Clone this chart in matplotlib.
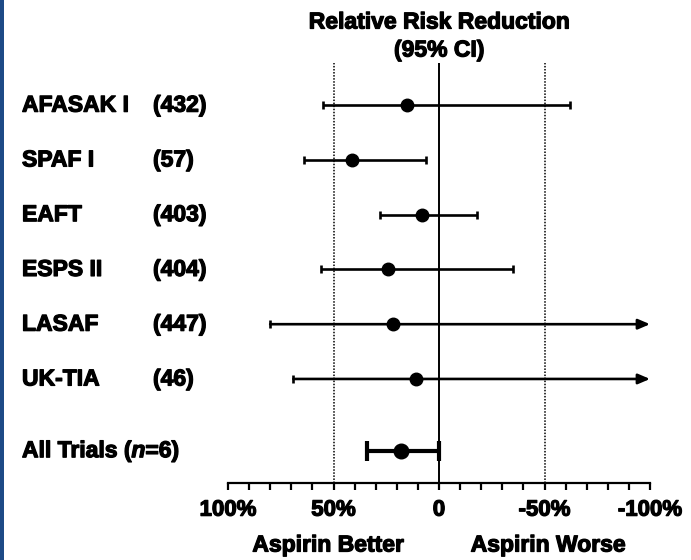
import matplotlib
matplotlib.use("Agg")
import matplotlib.pyplot as plt
import matplotlib.transforms as mtransforms
import matplotlib.patheffects as pe
from matplotlib.patches import Rectangle

plt.rcParams['font.family'] = ['Liberation Sans', 'DejaVu Sans']
plt.rcParams['font.weight'] = 'bold'

# relative risk reduction (%), point estimate and 95% CI ends
trials = ['AFASAK I', 'SPAF I', 'EAFT', 'ESPS II', 'LASAF', 'UK-TIA']
n_pts = ['(432)', '(57)', '(403)', '(404)', '(447)', '(46)']
rrr = [15, 41, 8, 24, 22, 11]
ci_better = [55, 64, 28, 56, 80, 69]
ci_worse = [-62, 6, -18, -35, -100, -100]
open_end = [False, False, False, False, True, True]

pooled_rrr = 18
pooled_ci = (34, 0)

tick_vals = [100, 50, 0, -50, -100]
tick_labels = ['100%', '50%', '0', '-50%', '-100%']

heavy = [pe.withStroke(linewidth=0.9, foreground='black')]

fig = plt.figure(figsize=(6.91, 5.60), dpi=100)
fig.patch.set_facecolor('white')
fig.patches.append(Rectangle((0, 0), 4 / 691, 1, transform=fig.transFigure,
                             facecolor='#1d4a86', edgecolor='none'))

ax = fig.add_axes([228 / 691, 77 / 560, 422 / 691, 420 / 560])
ax.set_xlim(100, -100)
ax.set_ylim(6.90, -0.77)

rows = list(range(len(trials)))
pooled_row = 6.31

# reference lines
ax.axvline(0, color='black', lw=1.4, zorder=1)
for v in (50, -50):
    ax.axvline(v, color='black', lw=1.1, ls=(0, (1, 1)), zorder=1)

# individual trials
for y, est, lo, hi, arrow in zip(rows, rrr, ci_better, ci_worse, open_end):
    ax.plot(lo, y, marker='|', color='black', ms=6, mew=1.9, zorder=2)
    if arrow:
        # CI runs off the scale: finish with an arrowhead
        ax.annotate('', xy=(hi, y), xytext=(lo, y),
                    arrowprops=dict(arrowstyle='-|>,head_length=0.7,head_width=0.3',
                                    color='black', lw=1.9, shrinkA=0, shrinkB=0),
                    zorder=2, annotation_clip=False)
    else:
        ax.plot([lo, hi], [y, y], color='black', lw=1.9, zorder=2,
                solid_capstyle='butt')
        ax.plot(hi, y, marker='|', color='black', ms=6, mew=1.9, zorder=2)
    ax.plot(est, y, 'o', color='black', ms=9, zorder=4)

# pooled estimate
ax.plot(pooled_ci, [pooled_row, pooled_row], color='black', lw=3, zorder=2,
        solid_capstyle='butt')
for end in pooled_ci:
    ax.plot(end, pooled_row, marker='|', color='black', ms=14, mew=3, zorder=2)
ax.plot(pooled_rrr, pooled_row, 'o', color='black', ms=10.5, zorder=4)

# axis styling
for side in ('top', 'left', 'right'):
    ax.spines[side].set_visible(False)
ax.spines['bottom'].set_linewidth(1.6)
ax.set_yticks([])
ax.set_xticks(tick_vals)
ax.set_xticklabels(tick_labels)
ax.set_xticks(range(-100, 101, 10), minor=True)
ax.tick_params(axis='x', which='both', direction='out', length=5, width=1.6,
               labelsize=16, pad=7)
for lab in ax.get_xticklabels():
    lab.set_fontweight('bold')
    lab.set_path_effects(heavy)

# row labels on the left
lbl = mtransforms.blended_transform_factory(fig.transFigure, ax.transData)
for y, name, n in zip(rows, trials, n_pts):
    ax.text(22 / 691, y, name, transform=lbl, fontsize=16.5, fontweight='bold',
            va='center', ha='left', clip_on=False, path_effects=heavy)
    ax.text(153 / 691, y, n, transform=lbl, fontsize=16.5, fontweight='bold',
            va='center', ha='left', clip_on=False, path_effects=heavy)

# "All Trials (n=6)" with italic n
fig.canvas.draw()
renderer = fig.canvas.get_renderer()
x0 = 22 / 691
for piece, style in (('All Trials (', 'normal'), ('n', 'italic'), ('=6)', 'normal')):
    t = ax.text(x0, pooled_row, piece, transform=lbl, fontsize=16.5,
                fontweight='bold', fontstyle=style, va='center', ha='left',
                clip_on=False, path_effects=heavy)
    bb = t.get_window_extent(renderer)
    x0 = fig.transFigure.inverted().transform((bb.x1, 0))[0]

# title and direction labels
for xp, yp, s in ((439, 22, 'Relative Risk Reduction'), (439, 50, '(95% CI)'),
                  (328, 545, 'Aspirin Better'), (548, 545, 'Aspirin Worse')):
    fig.text(xp / 691, 1 - yp / 560, s, ha='center', va='center',
             fontsize=16.5, fontweight='bold', path_effects=heavy)

fig.savefig('out.png', dpi=100)
